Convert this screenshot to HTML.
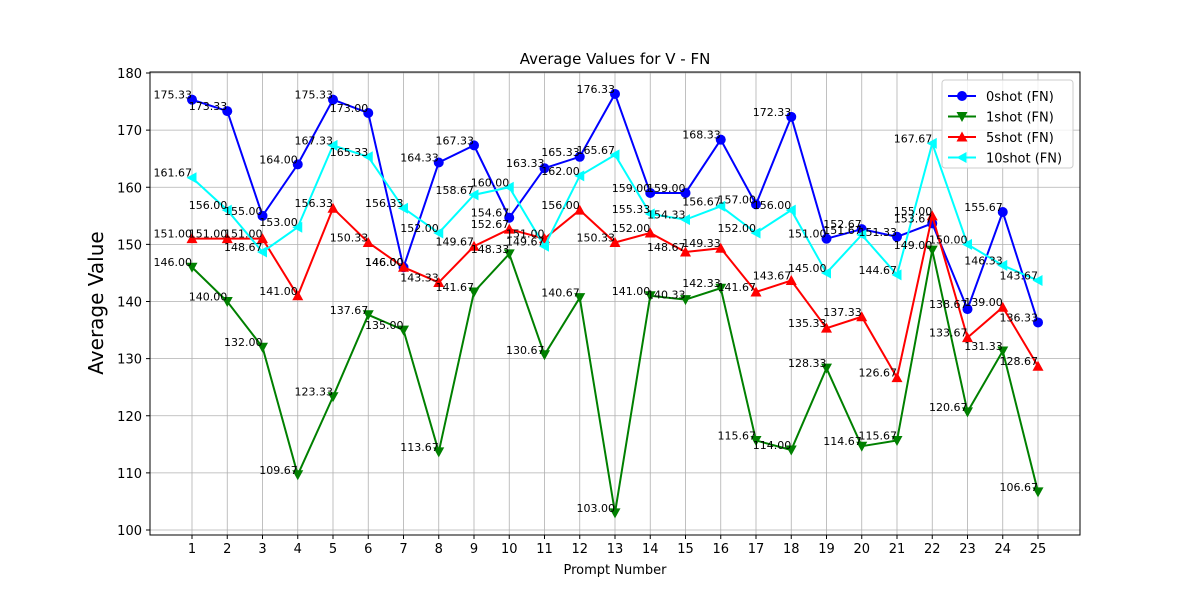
<!DOCTYPE html>
<html><head><meta charset="utf-8"><style>
body{margin:0;background:#fff;}
svg text{font-family:"DejaVu Sans","Liberation Sans",sans-serif;}
</style></head><body>
<svg id="chart" width="1200" height="600" xmlns="http://www.w3.org/2000/svg">
<rect width="1200" height="600" fill="#fff"/>
<g id="grid"></g>
<g id="series"></g>
<g id="labels"></g>
<rect x="150" y="72" width="930" height="463" fill="none" stroke="#000" stroke-width="1"/>
<g id="axes"></g>
<text x="615" y="64" font-size="15" text-anchor="middle">Average Values for V - FN</text>
<text x="615" y="574" font-size="13" text-anchor="middle">Prompt Number</text>
<text transform="translate(103,303) rotate(-90)" font-size="20" text-anchor="middle">Average Value</text>
<g id="legend"></g>
</svg>
<script>
const categories=[1,2,3,4,5,6,7,8,9,10,11,12,13,14,15,16,17,18,19,20,21,22,23,24,25];
const shot0=[175.33,173.33,155.00,164.00,175.33,173.00,146.00,164.33,167.33,154.67,163.33,165.33,176.33,159.00,159.00,168.33,157.00,172.33,151.00,152.67,151.33,153.67,138.67,155.67,136.33];
const shot1=[146.00,140.00,132.00,109.67,123.33,137.67,135.00,113.67,141.67,148.33,130.67,140.67,103.00,141.00,140.33,142.33,115.67,114.00,128.33,114.67,115.67,149.00,120.67,131.33,106.67];
const shot5=[151.00,151.00,151.00,141.00,156.33,150.33,146.00,143.33,149.67,152.67,151.00,156.00,150.33,152.00,148.67,149.33,141.67,143.67,135.33,137.33,126.67,155.00,133.67,139.00,128.67];
const shot10=[161.67,156.00,148.67,153.00,167.33,165.33,156.33,152.00,158.67,160.00,149.67,162.00,165.67,155.33,154.33,156.67,152.00,156.00,145.00,151.67,144.67,167.67,150.00,146.33,143.67];
const yTicks=[100,110,120,130,140,150,160,170,180];
const seriesNames=["0shot (FN)","1shot (FN)","5shot (FN)","10shot (FN)"];
const NS="http://www.w3.org/2000/svg";
function xS(i){return 192+(i-1)*35.25;}
function yS(v){return 73+(180-v)*5.7125;}
function mk(tag,attrs,parent){const e=document.createElementNS(NS,tag);for(const k in attrs)e.setAttribute(k,attrs[k]);parent.appendChild(e);return e;}
const grid=document.getElementById('grid'),axes=document.getElementById('axes'),ser=document.getElementById('series'),lab=document.getElementById('labels'),leg=document.getElementById('legend');
categories.forEach(c=>{
  const g=mk('line',{x1:xS(c),x2:xS(c),y1:72,y2:535,stroke:'#b0b0b0','stroke-width':0.8},grid);
  
  
  const t=mk('line',{x1:xS(c),x2:xS(c),y1:535,y2:539,stroke:'#000'},axes);
  
  
  const tx=mk('text',{x:xS(c),y:553,'font-size':13,'text-anchor':'middle'},axes);
  tx.textContent=c;
  
  
});
yTicks.forEach(v=>{
  const g=mk('line',{x1:150,x2:1080,y1:yS(v),y2:yS(v),stroke:'#b0b0b0','stroke-width':0.8},grid);
  
  
  const t=mk('line',{x1:146,x2:150,y1:yS(v),y2:yS(v),stroke:'#000'},axes);
  
  
  const tx=mk('text',{x:142,y:yS(v)+5,'font-size':13,'text-anchor':'end'},axes);
  tx.textContent=v;
  
  
});
function marker(type,x,y,color,parent){
  let e;
  if(type==='o') e=mk('circle',{cx:x,cy:y,r:5,fill:color},parent);
  else if(type==='v') e=mk('polygon',{points:`${x-5.5},${y-4.5} ${x+5.5},${y-4.5} ${x},${y+5.5}`,fill:color},parent);
  else if(type==='^') e=mk('polygon',{points:`${x-5.5},${y+4.5} ${x+5.5},${y+4.5} ${x},${y-5.5}`,fill:color},parent);
  else e=mk('polygon',{points:`${x+4.5},${y-5.5} ${x+4.5},${y+5.5} ${x-5.5},${y}`,fill:color},parent);
  return e;
}
const defs=[[shot0,'#0000ff','o','series-0shot'],[shot1,'#008000','v','series-1shot'],[shot5,'#ff0000','^','series-5shot'],[shot10,'#00ffff','<','series-10shot']];
defs.forEach(([d,color,m,name])=>{
  const g=mk('g',{},ser);
  
  
  const pl=mk('polyline',{points:d.map((v,i)=>xS(categories[i])+','+yS(v)).join(' '),fill:'none',stroke:color,'stroke-width':2},g);
  
  
  d.forEach((v,i)=>{
    const mm=marker(m,xS(categories[i]),yS(v),color,g);
    
    
    const t=mk('text',{x:xS(categories[i]),y:yS(v)-1,'font-size':11,'text-anchor':'end'},lab);
    t.textContent=v.toFixed(2);
    
    
  });
});
mk('rect',{x:942,y:80,width:131,height:88,rx:3,fill:'#fff','fill-opacity':0.8,stroke:'#ccc'},leg);
defs.forEach(([d,color,m,name],k)=>{
  const y=96+k*20.5;
  const g=mk('g',{},leg);
  
  
  mk('line',{x1:948,x2:976,y1:y,y2:y,stroke:color,'stroke-width':2},g);
  marker(m,962,y,color,g);
  const t=mk('text',{x:986,y:y+5,'font-size':13},g);
  t.textContent=seriesNames[k];
});
</script>
</body></html>
